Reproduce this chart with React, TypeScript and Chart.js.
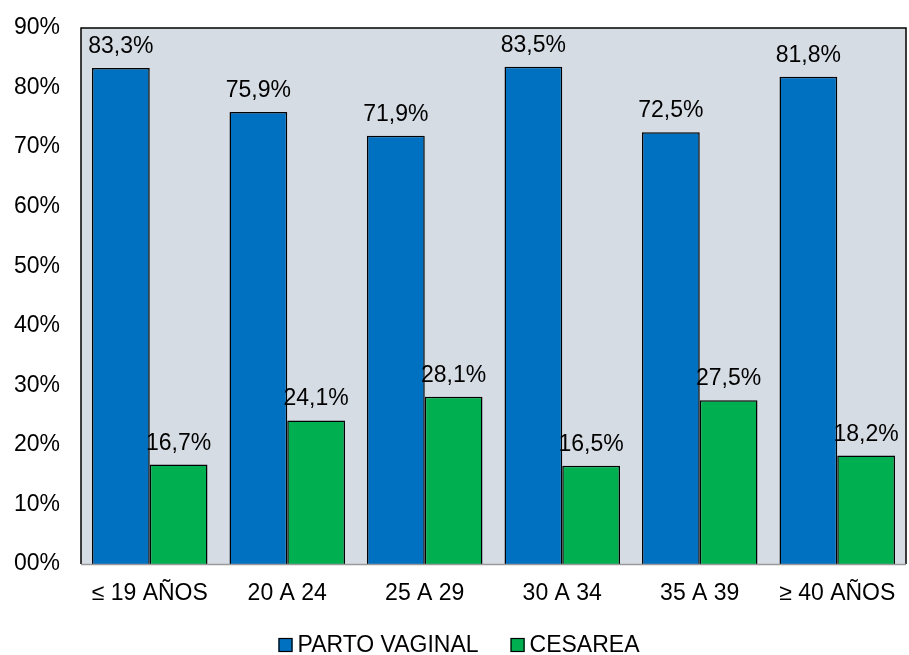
import React, { useEffect, useRef } from "react";
import { Chart, registerables } from "chart.js";

Chart.register(...registerables);

const categories = ["≤ 19 AÑOS", "20 A 24", "25 A 29", "30 A 34", "35 A 39", "≥ 40 AÑOS"];
const partoVaginal = [83.3, 75.9, 71.9, 83.5, 72.5, 81.8];
const cesarea = [16.7, 24.1, 28.1, 16.5, 27.5, 18.2];
const seriesNames = ["PARTO VAGINAL", "CESAREA"];
const seriesColors = ["#0070C0", "#00B050"];

const FONT_FAMILY = "'Liberation Sans', Arial, sans-serif";
const FONT_SIZE = 23;

const fmt = (v: number) => v.toFixed(1).replace(".", ",") + "%";

const plotPlugin = {
  id: "plotDecor",
  beforeDraw(chart: any) {
    const { ctx, chartArea: a } = chart;
    ctx.save();
    ctx.fillStyle = "#D6DCE4";
    ctx.fillRect(a.left, a.top, a.right - a.left, a.bottom - a.top);
    ctx.restore();
  },
  afterDatasetsDraw(chart: any) {
    const { ctx, chartArea: a } = chart;
    ctx.save();
    ctx.strokeStyle = "#000";
    ctx.lineWidth = 1.5;
    ctx.beginPath();
    ctx.moveTo(a.left, a.bottom);
    ctx.lineTo(a.left, a.top);
    ctx.lineTo(a.right, a.top);
    ctx.lineTo(a.right, a.bottom);
    ctx.stroke();
    ctx.strokeStyle = "#9A9A9A";
    ctx.beginPath();
    ctx.moveTo(a.left, a.bottom + 0.5);
    ctx.lineTo(a.right, a.bottom + 0.5);
    ctx.stroke();

    // data labels
    ctx.fillStyle = "#000";
    ctx.font = `${FONT_SIZE}px ${FONT_FAMILY}`;
    ctx.textAlign = "center";
    ctx.textBaseline = "alphabetic";
    chart.data.datasets.forEach((ds: any, di: number) => {
      const meta = chart.getDatasetMeta(di);
      meta.data.forEach((bar: any, i: number) => {
        ctx.fillText(fmt(ds.data[i]), bar.x, bar.y - 15);
      });
    });

    // legend
    const boxSize = 14;
    const gap = 5;
    const spacing = 32;
    const widths = chart.data.datasets.map((ds: any) => ctx.measureText(ds.label).width);
    const total =
      widths.reduce((s: number, w: number) => s + w + boxSize + gap, 0) + spacing * (widths.length - 1);
    let x = chart.width / 2 + 4.5 - total / 2;
    const cy = 645;
    ctx.textAlign = "left";
    ctx.textBaseline = "middle";
    chart.data.datasets.forEach((ds: any, di: number) => {
      ctx.fillStyle = ds.backgroundColor;
      ctx.fillRect(x, cy - 7, boxSize, boxSize);
      ctx.strokeStyle = "#000";
      ctx.lineWidth = 1.2;
      ctx.strokeRect(x + 0.5, cy - 6.5, boxSize - 1, boxSize - 1);
      ctx.fillStyle = "#000";
      ctx.fillText(ds.label, x + boxSize + gap, cy + 1);
      x += boxSize + gap + widths[di] + spacing;
    });
    ctx.restore();
  },
};

export default function App() {
  const ref = useRef<HTMLCanvasElement | null>(null);

  useEffect(() => {
    document.body.style.margin = "0";
    const canvas = ref.current;
    if (!canvas) return;
    const chart = new Chart(canvas, {
      type: "bar",
      data: {
        labels: categories,
        datasets: [
          {
            label: seriesNames[0],
            data: partoVaginal,
            backgroundColor: seriesColors[0],
            borderColor: "#000",
            borderWidth: 1.5,
            categoryPercentage: 0.84,
            barPercentage: 1,
          },
          {
            label: seriesNames[1],
            data: cesarea,
            backgroundColor: seriesColors[1],
            borderColor: "#000",
            borderWidth: 1.5,
            categoryPercentage: 0.84,
            barPercentage: 1,
          },
        ],
      },
      options: {
        animation: false,
        responsive: false,
        maintainAspectRatio: false,
        devicePixelRatio: 1,
        layout: { padding: { top: 28, right: 3, bottom: 0, left: 0 } },
        plugins: {
          legend: { display: false },
          tooltip: { enabled: false },
        },
        scales: {
          x: {
            grid: { display: false, drawTicks: true, tickLength: 16 },
            border: { display: false },
            ticks: {
              color: "#000",
              font: { family: FONT_FAMILY, size: FONT_SIZE },
              padding: 0,
              maxRotation: 0,
              autoSkip: false,
            },
            afterFit(scale: any) {
              scale.height = 91;
            },
          },
          y: {
            min: 0,
            max: 90,
            grid: { display: false, drawTicks: true, tickLength: 21 },
            border: { display: false },
            ticks: {
              stepSize: 10,
              color: "#000",
              font: { family: FONT_FAMILY, size: FONT_SIZE },
              padding: 0,
              callback: (v: any) => String(v).padStart(2, "0") + "%",
            },
            afterFit(scale: any) {
              scale.width = 81;
            },
          },
        },
      },
      plugins: [plotPlugin],
    });
    return () => chart.destroy();
  }, []);

  return (
    <div style={{ width: 909, height: 655 }}>
      <canvas ref={ref} width={909} height={655} style={{ display: "block", width: 909, height: 655 }} />
    </div>
  );
}
